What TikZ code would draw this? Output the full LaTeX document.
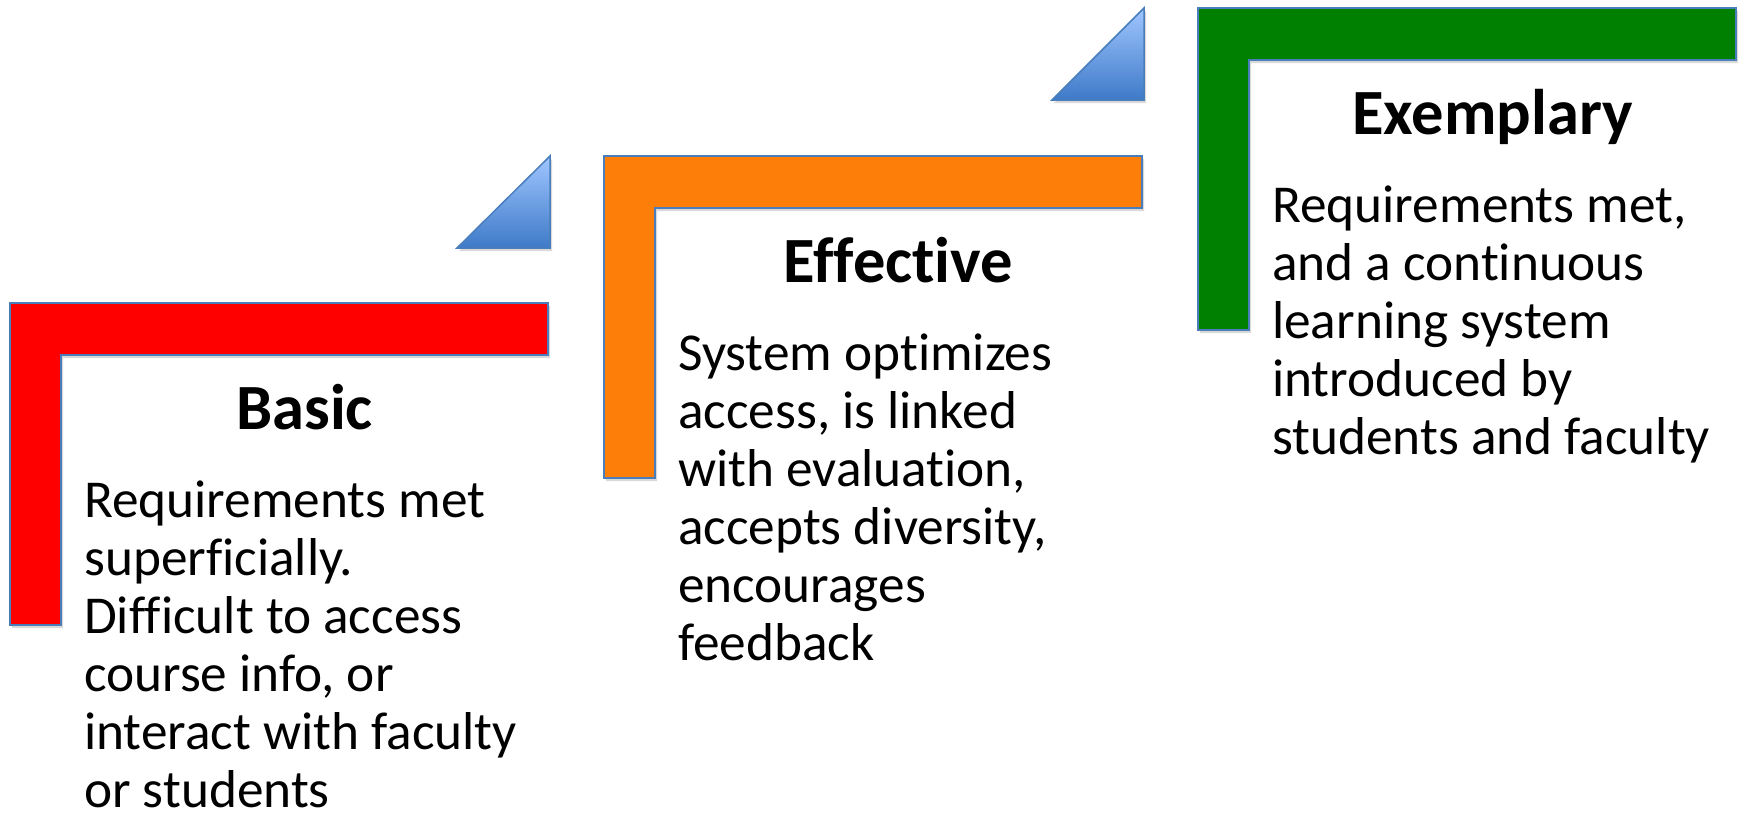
\documentclass[tikz,border=0pt]{standalone}
\usepackage{fontspec}
\setmainfont{Carlito}[Ligatures={NoCommon,NoContextual}]
\definecolor{lred}{RGB}{255,0,0}
\definecolor{lorange}{RGB}{253,127,10}
\definecolor{lgreen}{RGB}{0,128,0}
\definecolor{edgeblue}{RGB}{74,126,187}
\definecolor{trtop}{RGB}{160,198,255}
\definecolor{trbot}{RGB}{62,122,200}
\begin{document}
\begin{tikzpicture}[x=1pt,y=-1pt,
  lbar/.style={draw=edgeblue, line width=1.5pt, line join=miter},
  shad/.style={fill=black, opacity=0.15},
  tri/.style={draw=edgeblue, line width=1.5pt, top color=trtop, bottom color=trbot},
  title/.style={font=\fontsize{64.5}{70}\selectfont\bfseries, inner sep=0pt, anchor=base},
  body/.style={font=\fontsize{53.3}{58}\selectfont, inner sep=0pt, anchor=base west}]
\useasboundingbox (0,0) rectangle (1745,814);
% L-shaped bars
\foreach \x/\y/\c in {10/303/lred, 604/156/lorange, 1198/8/lgreen} {
  \fill[shad] ({\x+2},{\y+3}) -- ++(538,0) -- ++(0,52) -- ++(-487,0) -- ++(0,270) -- ++(-51,0) -- cycle;
  \draw[lbar, fill=\c] (\x,\y) -- ++(538,0) -- ++(0,52) -- ++(-487,0) -- ++(0,270) -- ++(-51,0) -- cycle;
}
% triangles
\fill[shad] (459,251) -- (552,251) -- (552,159) -- cycle;
\draw[tri] (457,248) -- (550,248) -- (550,156) -- cycle;
\fill[shad] (1054,103) -- (1146,103) -- (1146,11) -- cycle;
\draw[tri] (1052,100) -- (1144,100) -- (1144,8) -- cycle;
% titles
\node[title] (basic) at (304.5,429) {Basic};
\node[title] (effective) at (898.5,282) {Effective};
\node[title] (exemplary) at (1492.5,134) {Exemplary};
% bodies
\foreach \l [count=\i] in {Requirements met, superficially., Difficult to access, {course info, or}, interact with faculty, or students}
  \node[body] (basic-\i) at (84,{517+58*(\i-1)}) {\l};
\foreach \l [count=\i] in {System optimizes, {access, is linked}, {with evaluation,}, {accepts diversity,}, encourages, feedback}
  \node[body] (eff-\i) at (678,{370+58*(\i-1)}) {\l};
\foreach \l [count=\i] in {{Requirements met,}, and a continuous, learning system, introduced by, students and faculty}
  \node[body] (ex-\i) at (1272,{222+58*(\i-1)}) {\l};
\end{tikzpicture}
\end{document}
